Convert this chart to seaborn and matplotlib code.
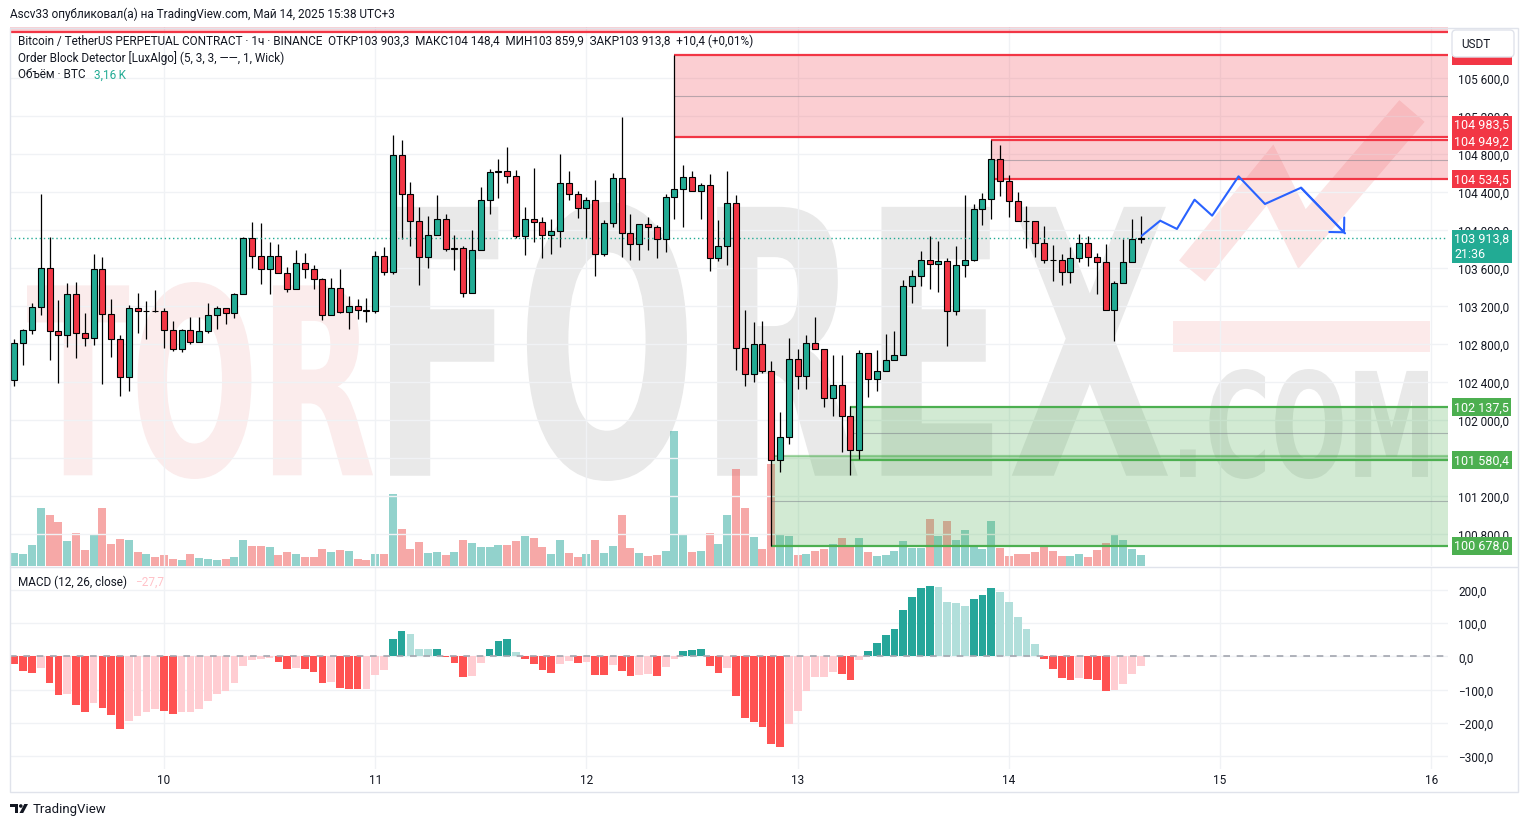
import numpy as np
import pandas as pd
import matplotlib
matplotlib.use("Agg")
import matplotlib.pyplot as plt
import seaborn as sns
from matplotlib.patches import PathPatch, Rectangle, FancyBboxPatch, Circle, Polygon
from matplotlib.textpath import TextPath
from matplotlib.font_manager import FontProperties
from matplotlib.transforms import Affine2D

sns.set_theme(style="white")
plt.rcParams['font.family'] = ['Roboto', 'DejaVu Sans']

# --- BTCUSDT.P 1h, 09.05 07:00 .. 14.05 15:00 ---
opens = np.array([
    102421, 102811, 102947, 103189, 103600, 102937, 102895, 103326, 102916, 102863,
    103590, 103116, 102853, 102453, 103179, 103147, 103150, 103147, 102947, 102747,
    102947, 102821, 102937, 103105, 103179, 103126, 103326, 103916, 103726, 103590,
    103726, 103547, 103379, 103653, 103590, 103484, 103105, 103389, 103137, 103200,
    103158, 103151, 103726, 103558, 104790, 104379, 104095, 103716, 103947, 104116,
    103800, 103810, 103337, 103789, 104316, 104610, 104621, 104568, 103937, 104116,
    104084, 103947, 103989, 104495, 104379, 104232, 104316, 103747, 104074, 104547,
    103968, 103853, 104063, 104032, 103905, 104347, 104432, 104558, 104411, 104474,
    103705, 103832, 104284, 102761, 102484, 102800, 102516, 101580, 101821, 102642,
    102463, 102811, 102747, 102232, 102368, 102042, 101684, 102705, 102432, 102516,
    102632, 102684, 103411, 103516, 103684, 103642, 103674, 103147, 103632, 103684,
    104221, 104326, 104747, 104516, 104305, 104095, 104090, 103863, 103684, 103680,
    103558, 103705, 103863, 103716, 103663, 103158, 103442, 103663, 103903.3])
highs = np.array([
    102856, 102958, 103235, 104382, 103930, 103267, 103446, 103456, 103130, 103751,
    103719, 103277, 102895, 103210, 103340, 103256, 103372, 103179, 103046, 102958,
    103088, 103088, 103235, 103200, 103179, 103337, 103926, 104084, 104074, 103877,
    103856, 103611, 103790, 103761, 103632, 103495, 103495, 103590, 103305, 103277,
    103284, 103779, 103821, 105003, 104947, 104505, 104246, 104151, 104368, 104172,
    103947, 103832, 104000, 104453, 104646, 104747, 104877, 104632, 104246, 104653,
    104137, 104116, 104804, 104621, 104411, 104347, 104526, 104105, 104600, 105193,
    104168, 104063, 104137, 104053, 104379, 105842, 104684, 104621, 104495, 104590,
    104105, 104621, 104368, 103158, 103035, 103046, 102621, 102084, 102867, 102747,
    102895, 103088, 102747, 102684, 102684, 102147, 102737, 102705, 102737, 102909,
    102937, 103474, 103579, 103779, 103940, 103884, 103705, 103832, 104368, 104274,
    104390, 104949.2, 104895, 104579, 104400, 104253, 104095, 104042, 103842, 103747,
    103821, 103958, 103937, 103758, 103853, 103463, 103905, 104116, 104148.4])
lows = np.array([
    102358, 102575, 102905, 103102, 102632, 102389, 102768, 102653, 102779, 102789,
    102379, 102663, 102253, 102305, 102912, 102853, 103137, 102758, 102726, 102716,
    102800, 102821, 102916, 102958, 103011, 103074, 103326, 103600, 103432, 103326,
    103547, 103347, 103379, 103495, 103379, 103053, 103105, 103126, 102958, 103063,
    103032, 103126, 103526, 103537, 103905, 103832, 103418, 103604, 103947, 103779,
    103579, 103295, 103337, 103789, 104168, 104337, 104495, 103916, 103737, 103874,
    103705, 103747, 103821, 104316, 104126, 103916, 103516, 103726, 104032, 103716,
    103684, 103684, 103789, 103705, 103768, 104116, 104032, 104411, 104116, 103568,
    103674, 103632, 102526, 102358, 102400, 102495, 100678, 101452, 101747, 102326,
    102326, 102747, 102137.5, 102042, 101663, 101421, 101589, 102242, 102305, 102516,
    102632, 102684, 103228, 103411, 103379, 103347, 102779, 103105, 103505, 103674,
    104053, 104116, 104358, 104137, 104095, 103811, 103716, 103653, 103463, 103421,
    103442, 103663, 103621, 103326, 103158, 102832, 103442, 103663, 103859.9])
closes = np.array([
    102811, 102947, 103189, 103600, 102937, 102895, 103326, 102916, 102863, 103590,
    103116, 102853, 102453, 103179, 103147, 103150, 103147, 102947, 102747, 102947,
    102821, 102937, 103105, 103179, 103126, 103326, 103916, 103726, 103590, 103726,
    103547, 103379, 103653, 103590, 103484, 103105, 103389, 103137, 103200, 103158,
    103151, 103726, 103558, 104790, 104379, 104095, 103716, 103947, 104116, 103800,
    103810, 103337, 103789, 104316, 104610, 104621, 104568, 103937, 104116, 104084,
    103947, 103989, 104495, 104379, 104232, 104316, 103747, 104074, 104547, 103968,
    103853, 104063, 104032, 103905, 104347, 104432, 104558, 104411, 104474, 103705,
    103832, 104284, 102761, 102484, 102800, 102516, 101580, 101821, 102642, 102463,
    102811, 102747, 102232, 102368, 102042, 101684, 102705, 102432, 102516, 102632,
    102684, 103411, 103516, 103684, 103642, 103674, 103147, 103632, 103684, 104221,
    104326, 104747, 104516, 104305, 104095, 104090, 103863, 103684, 103680, 103558,
    103705, 103863, 103716, 103663, 103158, 103442, 103663, 103905, 103913.8])
# volume, thousand BTC
volumes = np.array([
    3.7, 3.5, 6.1, 17.0, 15.0, 12.9, 7.3, 9.7, 4.6, 9.4,
    17.0, 6.4, 7.9, 7.6, 4.0, 3.5, 2.6, 3.2, 2.0, 1.7,
    3.5, 2.3, 2.0, 1.7, 2.0, 2.6, 7.6, 5.8, 5.8, 5.5,
    3.2, 4.0, 3.5, 2.6, 2.6, 4.9, 4.0, 4.6, 4.3, 2.0,
    1.7, 3.5, 3.5, 21.2, 10.8, 4.9, 7.0, 3.7, 4.0, 3.2,
    4.0, 7.6, 6.7, 5.5, 5.5, 6.1, 6.1, 7.3, 8.8, 8.2,
    5.5, 3.5, 7.6, 3.7, 2.6, 3.5, 7.6, 3.7, 5.8, 15.0,
    5.2, 3.7, 2.9, 3.2, 4.3, 39.8, 9.1, 4.0, 4.3, 9.7,
    6.4, 15.0, 28.6, 17.0, 8.5, 4.9, 30.0, 9.1, 8.8, 3.2,
    3.5, 4.3, 4.9, 6.4, 8.2, 5.5, 8.2, 4.0, 2.9, 3.2,
    4.3, 7.3, 5.2, 5.2, 13.8, 8.8, 13.2, 7.6, 10.5, 6.1,
    4.9, 13.2, 5.2, 2.9, 3.5, 3.5, 4.0, 5.5, 4.3, 2.9,
    2.9, 3.5, 2.6, 4.6, 6.7, 9.4, 7.6, 4.9, 3.16])
macd_hist = np.array([
    -22, -43, -49, -34, -79, -115, -114, -145, -169, -139,
    -154, -178, -220, -196, -181, -169, -157, -163, -175, -169,
    -168, -157, -133, -112, -103, -79, -28, -10, -9, -4,
    -16, -37, -34, -37, -46, -79, -78, -94, -97, -98,
    -97, -55, -40, 53, 77, 68, 23, 22, 23, -3,
    -19, -61, -58, -19, 23, 47, 53, 14, -7, -22,
    -40, -49, -22, -13, -19, -18, -55, -56, -25, -43,
    -58, -55, -54, -58, -31, -7, 17, 20, 23, -28,
    -49, -34, -118, -185, -197, -212, -265, -272, -205, -164,
    -104, -62, -61, -47, -53, -71, -11, 16, 40, 64,
    82, 139, 178, 205, 211, 208, 163, 160, 151, 172,
    184, 205, 193, 163, 118, 82, 37, -8, -38, -65,
    -71, -65, -68, -71, -104, -101, -83, -53, -27.7])

# order blocks: (first bar, bottom, top)
bear_blocks = [(-1, 106084, 106600), (75, 104983.5, 105842), (111, 104534.5, 104949.2)]
bull_blocks = [(95, 101580.4, 102137.5), (86, 100678.0, 101624)]
bear_tags = [104983.5, 104949.2, 104534.5]
bull_tags = [102137.5, 101580.4, 100678.0]
hidden_tag = 105842.0   # sits under the currency button

# projected path (bar index, price)
proj_x = [128.1, 130.2, 132.1, 134.1, 136.1, 139.1, 142.1, 146.2, 151.2]
proj_p = [103940, 104098, 104011, 104319, 104151, 104565, 104274, 104445, 103965]

last_price = 103913.8
price_ticks = np.arange(100800, 105601, 400)
macd_ticks = np.arange(-300, 201, 100)

start = pd.Timestamp("2025-05-09 07:00")
n = len(opens)
idx = np.arange(n)
axis_times = pd.date_range(start, periods=164, freq="h")
day_idx = np.where(axis_times.hour == 0)[0]
day_labels = [str(t.day) for t in axis_times[day_idx]]

GREEN, RED = '#22AB94', '#F23645'
OB_RED, OB_GREEN = '#F23645', '#4CAF50'
TXT = '#131722'
GRID = '#F0F2F5'
W, H = 1528, 828
XLIM = (-0.5, 162.9)


def fmt(v):
    s = f"{abs(v):,.1f}".replace(",", " ").replace(".", ",")
    return ("\u2212" if v < 0 else "") + s


def box(x0, y0, x1, y1):
    return [x0 / W, 1 - y1 / H, (x1 - x0) / W, (y1 - y0) / H]


fig = plt.figure(figsize=(W / 100, H / 100), dpi=100, facecolor='white')

# background layer with the watermark
bg = fig.add_axes([0, 0, 1, 1], zorder=0)
bg.set_xlim(0, W)
bg.set_ylim(H, 0)
bg.axis('off')

wm_font = FontProperties(family='DejaVu Sans', weight='bold', stretch='condensed')


def word(s, x0, y0, x1, y1, color):
    tp = TextPath((0, 0), s, size=100, prop=wm_font)
    e = tp.get_extents()
    tr = (Affine2D().translate(-e.x0, -e.y0)
          .scale((x1 - x0) / e.width, -(y1 - y0) / e.height)
          .translate(x0, y1))
    bg.add_patch(PathPatch(tr.transform_path(tp), fc=color, ec='none', lw=0))


word("TOR", 27, 283, 373, 480, '#FBECEC')
word("FOREX", 390, 203, 1168, 482, '#E9E9E9')
word(".COM", 1180, 370, 1428, 480, '#E9E9E9')
bg.add_patch(Rectangle((1173, 322), 257, 31, fc='#FCEAEA', ec='none'))
bg.plot([1192, 1270, 1302, 1412], [272, 176, 240, 112], color='#FBE4E4', lw=24,
        solid_joinstyle='miter', solid_capstyle='butt')

# price pane
ax = fig.add_axes(box(10, 28, 1448, 567))
axv = ax.twinx()
ax.set_zorder(2)
axv.set_zorder(1)
ax.patch.set_visible(False)
axv.patch.set_visible(False)

up = closes >= opens
vol_df = pd.DataFrame({'bar': idx, 'vol': volumes, 'dir': np.where(up, 'up', 'down')})
sns.barplot(data=vol_df, x='bar', y='vol', hue='dir', palette={'up': '#26A69A', 'down': '#EF5350'},
            native_scale=True, width=0.9, dodge=False, errorbar=None, saturation=1,
            alpha=0.5, linewidth=0, legend=False, ax=axv)
axv.set_ylim(0, 159.2)
axv.set_yticks([])
axv.set_xlabel('')
axv.set_ylabel('')

for s0, lo, hi in bear_blocks:
    ax.fill_between([s0, XLIM[1]], lo, hi, color=OB_RED, alpha=0.24, lw=0, zorder=1)
    ax.hlines([lo, hi], s0, XLIM[1], color=OB_RED, lw=1.6, zorder=2)
    ax.hlines((lo + hi) / 2, s0, XLIM[1], color='#787B86', alpha=0.5, lw=0.8, zorder=2)
for k, (s0, lo, hi) in enumerate(bull_blocks):
    ax.fill_between([s0, XLIM[1]], lo, hi, color=OB_GREEN, alpha=0.25, lw=0, zorder=1)
    ax.hlines(lo, s0, XLIM[1], color=OB_GREEN, lw=1.6, zorder=2)
    ax.hlines(hi, s0, XLIM[1], color=OB_GREEN, lw=1.6, alpha=1 if k == 0 else 0.5, zorder=2)
    ax.hlines((lo + hi) / 2, s0, XLIM[1], color='#787B86', alpha=0.5, lw=0.8, zorder=2)

body_lo = np.minimum(opens, closes)
body_hi = np.maximum(opens, closes)
ax.vlines(idx, lows, highs, color='black', lw=0.9, zorder=3)
ax.bar(idx, body_hi - body_lo, bottom=body_lo, width=0.68, color=np.where(up, GREEN, RED),
       edgecolor='black', linewidth=0.8, zorder=4)

ax.axhline(last_price, color=GREEN, lw=1, ls=(0, (1, 2)), zorder=3)
ax.plot(proj_x, proj_p, color='#2962FF', lw=1.5, zorder=5)
ax.annotate('', xy=(proj_x[-1], proj_p[-1]), xytext=(proj_x[-2], proj_p[-2]),
            arrowprops=dict(arrowstyle='->,head_length=0.75,head_width=0.75', color='#2962FF',
                            lw=1.5, shrinkA=0, shrinkB=0, mutation_scale=10), zorder=5)

ax.set_xlim(*XLIM)
ax.set_ylim(100463, 106137)
ax.set_xticks(day_idx)
ax.set_yticks(price_ticks)
ax.set_yticklabels([fmt(v) for v in price_ticks])
ax.yaxis.tick_right()
ax.tick_params(axis='y', length=0, pad=7.2, labelsize=8.5, labelcolor=TXT)
ax.tick_params(axis='x', length=0, labelbottom=False)
ax.grid(True, color=GRID, lw=1)
for a in (ax, axv):
    for sp in a.spines.values():
        sp.set_visible(False)


def tag(val, fc, text=None, dy=0, va='center', tc='white'):
    ax.annotate(text or fmt(val), xy=(1, val), xycoords=ax.get_yaxis_transform(),
                xytext=(6, dy), textcoords='offset pixels', ha='left', va=va,
                fontsize=9, color=tc, annotation_clip=False, zorder=6,
                bbox=dict(boxstyle='square,pad=0.2', fc=fc, ec='none'))


tag_shift = {104983.5: 12, 104949.2: -1}
for v in bear_tags:
    tag(v, OB_RED, dy=tag_shift.get(v, 0))
for v in bull_tags:
    tag(v, OB_GREEN)
tag(last_price, GREEN, text=fmt(last_price) + "\n21:36", dy=6, va='top')
# the label of the upper block edge is covered by the currency button, only its foot shows
tag(hidden_tag, OB_RED, dy=-1, tc=OB_RED)

# MACD pane
axm = fig.add_axes(box(10, 568, 1448, 770), zorder=2)
axm.patch.set_visible(False)
rising = np.r_[False, np.diff(macd_hist) > 0]
cat = np.where(macd_hist >= 0, np.where(rising, 'pos_up', 'pos_dn'),
               np.where(rising, 'neg_up', 'neg_dn'))
macd_pal = {'pos_up': '#26A69A', 'pos_dn': '#B2DFDB', 'neg_up': '#FFCDD2', 'neg_dn': '#FF5252'}
mdf = pd.DataFrame({'bar': idx, 'hist': macd_hist, 'cat': cat})
sns.barplot(data=mdf, x='bar', y='hist', hue='cat', palette=macd_pal, native_scale=True,
            width=0.88, dodge=False, errorbar=None, saturation=1, linewidth=0,
            legend=False, ax=axm)
axm.axhline(0, color='#A3A6AF', lw=1.2, ls=(0, (4, 4)), zorder=5)
axm.set_xlim(*XLIM)
axm.set_ylim(-339.2, 269.3)
axm.set_xticks(day_idx)
axm.set_xticklabels(day_labels)
axm.set_yticks(macd_ticks)
axm.set_yticklabels([fmt(v) for v in macd_ticks])
axm.yaxis.tick_right()
axm.tick_params(axis='y', length=0, pad=7.2, labelsize=8.5, labelcolor=TXT)
axm.tick_params(axis='x', length=0, pad=3, labelsize=8.5, labelcolor=TXT, labelbottom=True)
axm.set_xlabel('')
axm.set_ylabel('')
axm.grid(True, color=GRID, lw=1)
axm.set_axisbelow(True)
for sp in axm.spines.values():
    sp.set_visible(False)

# overlay: frame, legends, scale button, footer
ov = fig.add_axes([0, 0, 1, 1], zorder=10)
ov.set_xlim(0, W)
ov.set_ylim(H, 0)
ov.axis('off')
ov.patch.set_visible(False)
ov.add_patch(Rectangle((9.5, 28.5), 1508, 764, fill=False, ec='#E0E3EB', lw=1))
ov.plot([10, 1517], [567.5, 567.5], color='#E0E3EB', lw=1)
ov.add_patch(FancyBboxPatch((1452, 31), 62, 27, boxstyle='round,pad=0,rounding_size=4',
                            fc='white', ec='#E0E3EB', lw=1))
ov.text(1461, 44.5, "USDT", fontsize=8.5, color=TXT, va='center', ha='left')

ov.text(10, 14, "Ascv33 опубликовал(а) на TradingView.com, Май 14, 2025 15:38 UTC+3",
        fontsize=8.5, color=TXT, va='center', ha='left')
ov.text(18, 41, "Bitcoin / TetherUS PERPETUAL CONTRACT · 1ч · BINANCE  ОТКР103 903,3  "
        "МАКС104 148,4  МИН103 859,9  ЗАКР103 913,8  +10,4 (+0,01%)",
        fontsize=8.5, color=TXT, va='center', ha='left')
ov.text(18, 58, "Order Block Detector [LuxAlgo] (5, 3, 3, ——, 1, Wick)",
        fontsize=8.5, color=TXT, va='center', ha='left')
ov.text(18, 75, "Объём · BTC", fontsize=8.5, color=TXT, va='center', ha='left')
ov.text(94, 75, "3,16\u2009K", fontsize=8.5, color=GREEN, va='center', ha='left')
ov.text(18, 582, "MACD (12, 26, close)", fontsize=8.5, color=TXT, va='center', ha='left')
ov.text(135, 582, fmt(macd_hist[-1]), fontsize=8.5, color='#FFC2C8', va='center', ha='left')

# footer logo
ov.add_patch(Polygon([(10, 805), (18, 805), (18, 814), (14.5, 814), (14.5, 808.5), (10, 808.5)],
                     fc=TXT, ec='none'))
ov.add_patch(Circle((20.8, 807), 1.8, fc=TXT, ec='none'))
ov.add_patch(Polygon([(19.5, 814), (23.2, 814), (28, 805), (24.3, 805)], fc=TXT, ec='none'))
ov.text(33, 810, "TradingView", fontsize=9.5, color=TXT, va='center', ha='left')

fig.savefig("out.png", dpi=100, facecolor='white')
